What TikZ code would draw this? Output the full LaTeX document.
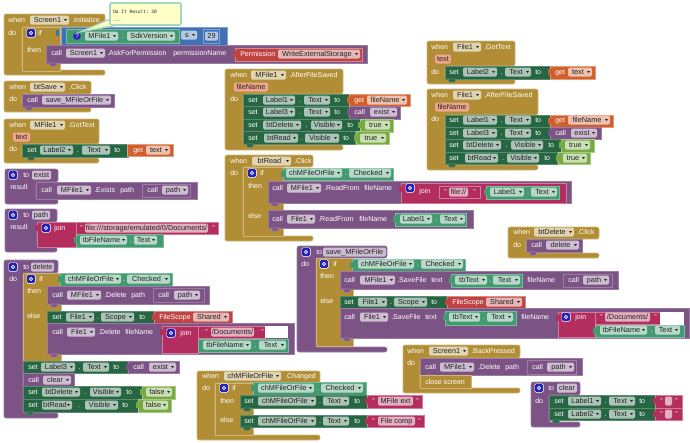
\documentclass[tikz,border=0pt]{standalone}
\usepackage{fontspec}
\setmainfont{Liberation Sans}
\setmonofont{DejaVu Sans Mono}
\usepackage{xcolor}
\definecolor{goldcol}{HTML}{B18E35}
\definecolor{goldedge}{HTML}{CDB77A}
\definecolor{purpcol}{HTML}{7C5385}
\definecolor{purpedge}{HTML}{9C7CA5}
\definecolor{setcol}{HTML}{266643}
\definecolor{setedge}{HTML}{5A8A70}
\definecolor{propcol}{HTML}{439970}
\definecolor{propedge}{HTML}{7BBC9C}
\definecolor{strcol}{HTML}{B32D5E}
\definecolor{stredge}{HTML}{D27A9A}
\definecolor{getcol}{HTML}{D05F2D}
\definecolor{getedge}{HTML}{E59A78}
\definecolor{redcol}{HTML}{BF4343}
\definecolor{rededge}{HTML}{DB8A8A}
\definecolor{boolcol}{HTML}{77AB41}
\definecolor{booledge}{HTML}{A8CC85}
\definecolor{bluecol}{HTML}{3F71B5}
\definecolor{blueedge}{HTML}{7FA3D3}
\definecolor{gearcol}{HTML}{2222BB}
\definecolor{pillcol}{HTML}{F0A68C}
\definecolor{bubblecol}{HTML}{FFFFC7}
\definecolor{bubbleedge}{HTML}{A5D8C2}
\definecolor{inkcol}{HTML}{222222}
\tikzset{
	goldb/.style={fill=goldcol,draw=goldedge,line width=0.4pt},
	purpb/.style={fill=purpcol,draw=purpedge,line width=0.4pt},
	setb/.style={fill=setcol,draw=setedge,line width=0.4pt},
	propb/.style={fill=propcol,draw=propedge,line width=0.4pt},
	strb/.style={fill=strcol,draw=stredge,line width=0.4pt},
	getb/.style={fill=getcol,draw=getedge,line width=0.4pt},
	redb/.style={fill=redcol,draw=rededge,line width=0.4pt},
	boolb/.style={fill=boolcol,draw=booledge,line width=0.4pt},
	blueb/.style={fill=bluecol,draw=blueedge,line width=0.4pt},
	lbl/.style={anchor=base west,inner sep=0pt,text=white,font=\fontsize{5.3}{6}\selectfont},
	ink/.style={anchor=base,inner sep=0pt,text=inkcol,font=\fontsize{5.5}{6}\selectfont},
}
\newcommand{\blk}[5]{\path[#1] (#2,#3) rectangle (#4,#5);}
\newcommand{\frm}[7]{\path[#1,rounded corners=1.5pt] (#2,#3) -- (#4,#3) -- (#4,#5) -- (#6,#5) -- (#6,#7-5) -- (#4,#7-5) -- (#4,#7) -- (#2,#7) -- cycle;}
\newcommand{\txt}[3]{\node[lbl] at ({#1},#2+2) {#3};}
\newcommand{\fld}[4]{\fill[white,fill opacity=0.62,rounded corners=1pt] (#1,#3-4.5) rectangle (#2,#3+4.5);
	\node[ink] at ({(#1+#2)/2-2},#3+2) {#4};
	\fill[inkcol] (#2-5,#3-1) -- (#2-2,#3-1) -- (#2-3.5,#3+1) -- cycle;}
\newcommand{\nam}[4]{\fill[white,fill opacity=0.62,rounded corners=1pt] (#1,#3-4.5) rectangle (#2,#3+4.5);
	\node[ink] at ({(#1+#2)/2},#3+2) {#4};}
\newcommand{\pill}[4]{\fill[pillcol,rounded corners=1.5pt] (#1,#3-4.5) rectangle (#2,#3+4.5);
	\node[ink] at ({(#1+#2)/2},#3+2) {#4};}
\newcommand{\prop}[7]{\fld{#1}{#2}{#5}{#6}\fld{#3}{#4}{#5}{#7}\txt{(#2+#3)/2-0.7}{#5}{.}}
\newcommand{\gear}[2]{\fill[white,rounded corners=1pt] (#1-4.5,#2-4.5) rectangle (#1+4.5,#2+4.5);
	\fill[gearcol,rounded corners=0.8pt] (#1-3.8,#2-3.8) rectangle (#1+3.8,#2+3.8);
	\draw[white,line width=0.6pt] (#1,#2) circle (1.6);}
\newcommand{\tab}[3]{\path[#3] (#1+3,#2) -- (#1+4.5,#2+3) -- (#1+9.5,#2+3) -- (#1+11,#2) -- cycle;}
\newcommand{\plug}[3]{\fill[#3] (#1-2,#2-3) rectangle (#1+0.5,#2+3);}

\begin{document}
\begin{tikzpicture}[x=0.75pt,y=-0.75pt]
	\useasboundingbox (0,0) rectangle (690,443);

	\frm{goldb}{4}{14}{105}{27}{22}{75}
	\txt{8}{20}{when}\fld{30}{69}{20}{Screen1}\txt{72}{20}{.Initialize}\txt{8}{33}{do}
	\blk{goldb}{22}{27}{60}{71}\gear{31}{33}\txt{38}{33}{if}\txt{27}{50}{then}
	\blk{blueb}{61}{27}{227}{45}\plug{58}{33}{bluecol}
	\blk{propb}{66}{29}{179}{43}\fill[gearcol] (77,36) circle (3.8);\node[lbl,anchor=center] at (77,36) {?};
	\prop{85}{118}{127}{175}{36}{MFile1}{SdkVersion}
	\fld{181}{197}{35}{≤}
	\blk{blueb}{203}{29}{219}{43}\nam{205}{218}{36}{29}
	\blk{purpb}{46}{45}{367}{63}\tab{46}{63}{purpb}
	\txt{51}{53}{call}\fld{66}{105}{53}{Screen1}\txt{107}{53}{.AskForPermission}\txt{173}{53}{permissionName}
	\blk{redb}{235}{48}{362}{61}\plug{235}{54}{redcol}\txt{240}{54}{Permission}\fld{278}{360}{54}{WriteExternalStorage}

	\path[fill=bubblecol,draw=bubbleedge,line width=1pt] (110,19) -- (80,32) -- (118,25);
	\path[fill=bubblecol,draw=bubbleedge,line width=1.2pt,rounded corners=1pt] (110,3) rectangle (181,25);
	\fill[bubblecol] (111,18) -- (111,24) -- (117,24) -- cycle;
	\node[anchor=base west,inner sep=0pt,text=inkcol,font=\ttfamily\fontsize{3.4}{4}\selectfont] at (113,13) {Do It Result: 30};
	\node[anchor=base west,inner sep=0pt,text=inkcol,font=\ttfamily\fontsize{3.4}{4}\selectfont] at (113,22) {---};

	\frm{goldb}{4}{81}{91}{94}{22}{112}
	\txt{9}{87}{when}\fld{30}{65}{87}{btSave}\txt{69}{87}{.Click}\txt{9}{99}{do}
	\blk{purpb}{22}{94}{114}{107}\tab{22}{107}{purpb}
	\txt{27}{100}{call}\fld{42}{111}{100}{save\_MFileOrFile}

	\frm{goldb}{4}{119}{99}{144}{22}{163}
	\txt{9}{125}{when}\fld{30}{65}{125}{MFile1}\txt{68}{125}{.GotText}
	\pill{13}{30}{137}{text}\txt{9}{149}{do}
	\blk{setb}{22}{144}{128}{157}\tab{24}{157}{setb}
	\txt{27}{150}{set}\prop{40}{73}{82}{110}{150}{Label2}{Text}\txt{114}{150}{to}
	\blk{getb}{127}{144}{173}{156}\txt{133}{150}{get}\fld{146}{170}{150}{text}

	\frm{purpb}{5}{169}{58}{182}{36}{204}
	\gear{13}{175}\txt{23}{175}{to}\nam{32}{51}{175}{exist}\txt{10}{187}{result}
	\blk{purpb}{36}{182}{197}{199}
	\txt{41}{190}{call}\fld{57}{91}{190}{MFile1}\txt{94}{190}{.Exists}\txt{120}{190}{path}
	\blk{purpb}{142}{184}{190}{197}\txt{147}{190}{call}\fld{162}{188}{190}{path}

	\frm{purpb}{5}{209}{57}{222}{37}{252}
	\gear{13}{215}\txt{23}{215}{to}\nam{32}{50}{215}{path}\txt{10}{227}{result}
	\blk{strb}{37}{222}{76}{247}\plug{37}{228}{strcol}
	\blk{strb}{76}{222}{218}{234}\gear{46}{228}\txt{54}{228}{join}
	\txt{80}{228}{"}\nam{85}{208}{228}{file:///storage/emulated/0/Documents/}\txt{212}{228}{"}
	\blk{propb}{76}{234}{163}{247}\plug{76}{240}{propcol}
	\prop{80}{127}{134}{157}{240}{tbFileName}{Text}

	\frm{purpb}{4}{260}{58}{273}{23}{418}
	\gear{13}{267}\txt{23}{267}{to}\nam{31}{54}{267}{delete}\txt{9}{279}{do}
	\blk{goldb}{23}{273}{61}{361}\gear{31}{279}\txt{39}{279}{if}\txt{27}{291}{then}\txt{27}{316}{else}
	\blk{propb}{60}{273}{172}{286}\plug{60}{279}{propcol}
	\prop{65}{121}{127}{170}{279}{chMFileOrFile}{Checked}
	\blk{purpb}{47}{286}{209}{304}\tab{47}{304}{purpb}
	\txt{52}{295}{call}\fld{67}{101}{295}{MFile1}\txt{104}{295}{.Delete}\txt{131}{295}{path}
	\blk{purpb}{153}{288}{204}{302}\txt{158}{295}{call}\fld{174}{200}{295}{path}
	\blk{setb}{47}{311}{154}{323}
	\txt{52}{317}{set}\prop{66}{94}{101}{134}{317}{File1}{Scope}\txt{139}{317}{to}
	\blk{redb}{154}{311}{232}{323}\plug{154}{317}{redcol}\txt{159}{317}{FileScope}\fld{193}{229}{317}{Shared}
	\blk{purpb}{47}{323}{294}{354}\tab{47}{354}{purpb}
	\txt{52}{332}{call}\fld{67}{95}{332}{File1}\txt{98}{332}{.Delete}\txt{125}{332}{fileName}
	\blk{strb}{162}{326}{198}{353}\plug{162}{332}{strcol}
	\gear{171}{333}\txt{180}{333}{join}
	\blk{strb}{198}{326}{265}{338}\fill[white] (265,326) rectangle (288,338);
	\txt{205}{332}{"}\nam{211}{254}{332}{/Documents/}\txt{261}{332}{"}
	\blk{propb}{198}{339}{288}{352}\prop{203}{251}{259}{286}{345}{tbFileName}{Text}
	\blk{setb}{23}{361}{128}{373}
	\txt{28}{367}{set}\prop{41}{75}{83}{109}{367}{Label3}{Text}\txt{113}{367}{to}
	\blk{purpb}{128}{361}{179}{373}\plug{128}{367}{purpcol}\txt{133}{367}{call}\fld{149}{176}{367}{exist}
	\blk{purpb}{23}{373}{74}{386}\txt{28}{380}{call}\fld{43}{71}{380}{clear}
	\blk{setb}{23}{386}{142}{399}\txt{28}{392}{set}\prop{42}{80}{90}{121}{392}{btDelete}{Visible}\txt{126}{392}{to}
	\blk{boolb}{142}{386}{175}{399}\plug{142}{392}{boolcol}\fld{146}{172}{392}{false}
	\blk{setb}{23}{399}{139}{412}\tab{23}{412}{setb}\txt{28}{405}{set}\prop{42}{72}{85}{118}{405}{btRead}{Visible}\txt{122}{405}{to}
	\blk{boolb}{138}{399}{171}{412}\plug{138}{405}{boolcol}\fld{143}{168}{405}{false}

	\frm{goldb}{197}{371}{320}{383}{215}{440}
	\txt{202}{376}{when}\fld{224}{281}{376}{chMFileOrFile}\txt{285}{376}{.Changed}\txt{202}{388}{do}
	\blk{goldb}{215}{383}{253}{435}\gear{224}{388}\txt{232}{388}{if}\txt{220}{401}{then}\txt{220}{420}{else}
	\blk{propb}{253}{382}{366}{395}\plug{253}{388}{propcol}
	\prop{258}{314}{321}{363}{388}{chMFileOrFile}{Checked}
	\blk{setb}{240}{395}{367}{408}\tab{240}{408}{setb}
	\txt{244}{401}{set}\prop{258}{316}{323}{349}{401}{chMFileOrFile}{Text}\txt{354}{401}{to}
	\blk{strb}{367}{395}{422}{408}\plug{367}{401}{strcol}\txt{372}{401}{"}\nam{378}{413}{401}{MFile ext}\txt{416}{401}{"}
	\blk{setb}{240}{415}{367}{427}\tab{240}{427}{setb}
	\txt{244}{421}{set}\prop{258}{316}{323}{349}{421}{chMFileOrFile}{Text}\txt{354}{421}{to}
	\blk{strb}{367}{415}{424}{427}\plug{367}{421}{strcol}\txt{372}{421}{"}\nam{378}{415}{421}{File comp}\txt{418}{421}{"}

	\frm{goldb}{225}{69}{343}{94}{243}{150}
	\txt{230}{75}{when}\fld{251}{286}{75}{MFile1}\txt{289}{75}{.AfterFileSaved}
	\pill{234}{268}{87}{fileName}\txt{230}{99}{do}
	\blk{setb}{243}{94}{349}{106}\txt{248}{100}{set}\prop{263}{295}{304}{330}{100}{Label1}{Text}\txt{334}{100}{to}
	\blk{getb}{349}{94}{410}{106}\plug{349}{100}{getcol}\txt{354}{100}{get}\fld{367}{407}{100}{fileName}
	\blk{setb}{243}{106}{349}{119}\txt{248}{112}{set}\prop{263}{295}{304}{330}{112}{Label3}{Text}\txt{334}{112}{to}
	\blk{purpb}{349}{106}{400}{119}\plug{349}{112}{purpcol}\txt{354}{112}{call}\fld{370}{397}{112}{exist}
	\blk{setb}{243}{119}{360}{131}\txt{248}{125}{set}\prop{263}{301}{311}{342}{125}{btDelete}{Visible}\txt{347}{125}{to}
	\blk{boolb}{360}{119}{393}{132}\plug{360}{125}{boolcol}\fld{365}{390}{125}{true}
	\blk{setb}{243}{131}{355}{144}\tab{243}{144}{setb}\txt{248}{138}{set}\prop{264}{298}{305}{339}{138}{btRead}{Visible}\txt{343}{138}{to}
	\blk{boolb}{356}{131}{389}{144}\plug{356}{138}{boolcol}\fld{360}{386}{138}{true}

	\frm{goldb}{225}{155}{313}{167}{243}{241}
	\txt{230}{161}{when}\fld{252}{291}{161}{btRead}\txt{294}{161}{.Click}\txt{230}{173}{do}
	\blk{goldb}{243}{167}{283}{236}\gear{252}{173}\txt{260}{173}{if}\txt{248}{186}{then}\txt{248}{216}{else}
	\blk{propb}{283}{168}{393}{180}\plug{283}{174}{propcol}
	\prop{286}{342}{349}{391}{173}{chMFileOrFile}{Checked}
	\blk{purpb}{268}{181}{571}{203}\tab{268}{203}{purpb}
	\txt{272}{188}{call}\fld{287}{321}{188}{MFile1}\txt{324}{188}{.ReadFrom}\txt{364}{188}{fileName}
	\blk{strb}{401}{183}{566}{203}\plug{401}{189}{strcol}\gear{410}{188}\txt{419}{191}{join}
	\blk{strb}{439}{186}{480}{198}\txt{444}{192}{"}\nam{449}{468}{192}{file://}\txt{473}{192}{"}
	\blk{propb}{486}{186}{559}{199}\plug{486}{192}{propcol}\prop{490}{524}{531}{557}{192}{Label1}{Text}
	\blk{purpb}{268}{210}{473}{228}\tab{268}{228}{purpb}
	\txt{272}{219}{call}\fld{287}{315}{219}{File1}\txt{318}{219}{.ReadFrom}\txt{359}{219}{fileName}
	\blk{propb}{395}{213}{466}{226}\plug{395}{219}{propcol}\prop{400}{432}{440}{465}{219}{Label1}{Text}

	\frm{goldb}{427}{41}{515}{66}{445}{84}
	\txt{431}{47}{when}\fld{453}{481}{47}{File1}\txt{484}{47}{.GotText}
	\pill{435}{451}{59}{text}\txt{431}{72}{do}
	\blk{setb}{445}{66}{550}{79}\tab{445}{79}{setb}\txt{449}{72}{set}\prop{463}{497}{505}{531}{72}{Label2}{Text}\txt{535}{72}{to}
	\blk{getb}{550}{66}{595}{79}\plug{550}{72}{getcol}\txt{555}{72}{get}\fld{568}{592}{72}{text}

	\frm{goldb}{427}{89}{538}{115}{445}{170}
	\txt{431}{95}{when}\fld{453}{481}{95}{File1}\txt{484}{95}{.AfterFileSaved}
	\pill{435}{469}{107}{fileName}\txt{431}{119}{do}
	\blk{setb}{445}{115}{550}{127}\txt{449}{120}{set}\prop{463}{497}{505}{531}{120}{Label1}{Text}\txt{535}{120}{to}
	\blk{getb}{550}{115}{613}{127}\plug{550}{121}{getcol}\txt{555}{120}{get}\fld{568}{610}{120}{fileName}
	\blk{setb}{445}{127}{550}{139}\txt{449}{133}{set}\prop{463}{497}{505}{531}{133}{Label3}{Text}\txt{535}{133}{to}
	\blk{purpb}{550}{127}{601}{139}\plug{550}{133}{purpcol}\txt{555}{133}{call}\fld{571}{597}{133}{exist}
	\blk{setb}{445}{139}{562}{152}\txt{449}{145}{set}\prop{463}{501}{511}{543}{145}{btDelete}{Visible}\txt{548}{145}{to}
	\blk{boolb}{561}{139}{594}{152}\plug{561}{145}{boolcol}\fld{565}{590}{145}{true}
	\blk{setb}{445}{152}{557}{164}\tab{445}{164}{setb}\txt{449}{158}{set}\prop{465}{498}{507}{539}{158}{btRead}{Visible}\txt{544}{158}{to}
	\blk{boolb}{558}{152}{590}{164}\plug{558}{158}{boolcol}\fld{563}{587}{158}{true}

	\frm{goldb}{508}{227}{599}{239}{526}{258}
	\txt{513}{232}{when}\fld{534}{574}{232}{btDelete}\txt{577}{232}{.Click}\txt{513}{245}{do}
	\blk{purpb}{526}{239}{582}{252}\tab{526}{252}{purpb}\txt{531}{245}{call}\fld{546}{579}{245}{delete}

	\frm{purpb}{297}{246}{387}{258}{316}{352}
	\gear{306}{252}\txt{316}{252}{to}\nam{323}{386}{252}{save\_MFileOrFile}\txt{301}{264}{do}
	\blk{goldb}{316}{258}{353}{346}\gear{324}{264}\txt{333}{264}{if}\txt{320}{276}{then}\txt{320}{301}{else}
	\blk{propb}{352}{259}{465}{272}\plug{352}{265}{propcol}
	\prop{358}{414}{421}{463}{264}{chMFileOrFile}{Checked}
	\blk{purpb}{340}{271}{618}{289}\tab{340}{289}{purpb}
	\txt{344}{280}{call}\fld{360}{395}{280}{MFile1}\txt{397}{280}{.SaveFile}\txt{431}{280}{text}
	\blk{propb}{451}{274}{522}{287}\plug{451}{280}{propcol}\prop{455}{487}{493}{520}{280}{tbText}{Text}
	\txt{527}{280}{fileName}
	\blk{purpb}{563}{274}{612}{287}\txt{568}{280}{call}\fld{583}{609}{280}{path}
	\blk{setb}{340}{296}{447}{308}\txt{344}{302}{set}\prop{358}{387}{394}{427}{302}{File1}{Scope}\txt{431}{302}{to}
	\blk{redb}{447}{296}{525}{308}\plug{447}{302}{redcol}\txt{452}{302}{FileScope}\fld{486}{522}{302}{Shared}
	\blk{purpb}{340}{308}{689}{338}\tab{340}{338}{purpb}
	\txt{344}{317}{call}\fld{360}{388}{317}{File1}\txt{391}{317}{.SaveFile}\txt{425}{317}{text}
	\blk{propb}{445}{311}{516}{325}\plug{445}{317}{propcol}\prop{449}{480}{487}{513}{317}{tbText}{Text}
	\txt{521}{317}{fileName}
	\blk{strb}{558}{312}{595}{337}\plug{558}{318}{strcol}\gear{566}{317}\txt{575}{317}{join}
	\blk{strb}{595}{312}{660}{324}\fill[white] (660,312) rectangle (684,325);
	\txt{600}{317}{"}\nam{605}{650}{317}{/Documents/}\txt{654}{317}{"}
	\blk{propb}{595}{325}{684}{337}\plug{595}{331}{propcol}\prop{600}{647}{655}{680}{330}{tbFileName}{Text}

	\frm{goldb}{403}{345}{520}{358}{420}{393}
	\txt{407}{351}{when}\fld{429}{468}{351}{Screen1}\txt{471}{351}{.BackPressed}\txt{407}{363}{do}
	\blk{purpb}{420}{358}{582}{375}\tab{424}{375}{purpb}
	\txt{425}{367}{call}\fld{440}{474}{367}{MFile1}\txt{478}{367}{.Delete}\txt{505}{367}{path}
	\blk{purpb}{527}{360}{576}{374}\txt{532}{367}{call}\fld{547}{574}{367}{path}
	\blk{goldb}{420}{375}{471}{388}\txt{425}{382}{close screen}

	\frm{purpb}{531}{382}{580}{395}{549}{427}
	\gear{539}{388}\txt{548}{388}{to}\nam{557}{577}{388}{clear}\txt{535}{401}{do}
	\blk{setb}{549}{395}{655}{408}\txt{554}{401}{set}\prop{568}{601}{609}{635}{401}{Label1}{Text}\txt{639}{401}{to}
	\blk{strb}{655}{395}{682}{408}\plug{655}{401}{strcol}\txt{660}{401}{"}\nam{665}{672}{401}{}\txt{675}{401}{"}
	\blk{setb}{549}{408}{655}{420}\tab{549}{420}{setb}\txt{554}{414}{set}\prop{568}{601}{609}{635}{414}{Label2}{Text}\txt{639}{414}{to}
	\blk{strb}{655}{408}{682}{420}\plug{655}{414}{strcol}\txt{660}{414}{"}\nam{665}{672}{414}{}\txt{675}{414}{"}
\end{tikzpicture}
\end{document}
